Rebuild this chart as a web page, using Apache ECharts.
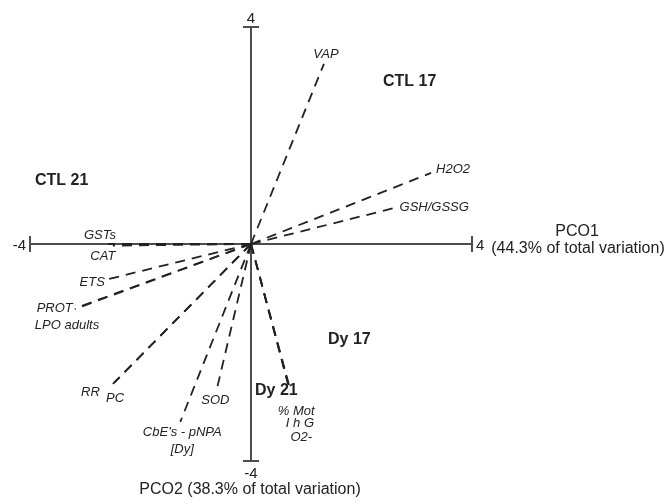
<!DOCTYPE html>
<html>
<head>
<meta charset="utf-8">
<script src="https://cdn.jsdelivr.net/npm/echarts@6/dist/echarts.min.js"></script>
<style>
  html, body { margin: 0; padding: 0; background: #fff; }
  #chart { width: 667px; height: 504px; }
</style>
</head>
<body>
<div id="chart"></div>
<script>
// PCO vector loadings (PCO1, PCO2) for each response variable
const variables = ['VAP', 'H2O2', 'GSH/GSSG', 'GSTs', 'CAT', 'ETS', 'PROT', 'LPO adults',
  'RR', 'PC', 'SOD', "CbE's - pNPA\n[Dy]", '% Mot', 'I h G', 'O2-'];
const pco1 = [1.32, 3.26, 2.58, -2.59, -2.50, -2.59, -3.19, -3.17, -2.50, -2.48, -0.61, -1.28, 0.68, 0.67, 0.69];
const pco2 = [3.32, 1.31, 0.66, 0.00, -0.03, -0.65, -1.20, -1.18, -2.58, -2.56, -2.64, -3.28, -2.60, -2.58, -2.61];

// axis extent and its end labels
const axisRange = [-4, 4];
const tickLabels = ['-4', '4'];

// group (treatment) names and axis titles
const groupNames = ['CTL 21', 'CTL 17', 'Dy 17', 'Dy 21'];
const axisTitles = ['PCO1', '(44.3% of total variation)', 'PCO2 (38.3% of total variation)'];

const FONT = "'Liberation Sans', Arial, sans-serif";
const INK = '#222';
const AXIS_COLOR = '#4d4d4d';

// label placement relative to each vector tip (pixels)
const labelLayout = {
  'VAP':        { dx: 2,   dy: -9, align: 'center' },
  'H2O2':       { dx: 5,   dy: -4, align: 'left' },
  'GSH/GSSG':   { dx: 6,   dy: -1, align: 'left' },
  'GSTs':       { dx: -8,  dy: -9, align: 'center' },
  'CAT':        { dx: -10, dy: 11, align: 'center' },
  'ETS':        { dx: -3,  dy: 3,  align: 'right' },
  'PROT':       { dx: -2,  dy: -1, align: 'right' },
  'LPO adults': { dx: -41, dy: 17, align: 'left' },
  'RR':         { dx: -13, dy: 8,  align: 'right' },
  'PC':         { dx: -8,  dy: 16, align: 'left' },
  'SOD':        { dx: -2,  dy: 13, align: 'center' },
  "CbE's - pNPA\n[Dy]": { dx: 2, dy: 2, align: 'center', vAlign: 'top' },
  '% Mot':      { dx: 26,  dy: 26, align: 'right' },
  'I h G':      { dx: 26,  dy: 39, align: 'right' },
  'O2-':        { dx: 23,  dy: 52, align: 'right' }
};

// group label positions (pixels, left edge / middle)
const groupLayout = [[35, 182], [383, 83], [328, 341], [255, 392]];

const chart = echarts.init(document.getElementById('chart'), null, { renderer: 'canvas' });

const vectorData = variables.map((name, i) => [pco1[i], pco2[i], i]);

const option = {
  animation: false,
  backgroundColor: '#fff',
  grid: { left: 30, right: 195, top: 27, bottom: 43 },
  xAxis: { type: 'value', min: axisRange[0], max: axisRange[1], show: false },
  yAxis: { type: 'value', min: axisRange[0], max: axisRange[1], show: false },
  series: [
    {
      // the two principal axes with their end ticks and end labels
      type: 'custom',
      coordinateSystem: 'cartesian2d',
      data: [[0, 0]],
      z: 1,
      renderItem: function (params, api) {
        const l = api.coord([axisRange[0], 0]);
        const r = api.coord([axisRange[1], 0]);
        const t = api.coord([0, axisRange[1]]);
        const b = api.coord([0, axisRange[0]]);
        const lineStyle = { stroke: AXIS_COLOR, lineWidth: 2 };
        const tick = 8;
        const txt = (text, x, y, align) => ({
          type: 'text',
          style: { text, x, y, align, verticalAlign: 'middle', font: '15px ' + FONT, fill: INK }
        });
        return {
          type: 'group',
          children: [
            { type: 'line', shape: { x1: l[0], y1: l[1], x2: r[0], y2: r[1] }, style: lineStyle },
            { type: 'line', shape: { x1: t[0], y1: t[1], x2: b[0], y2: b[1] }, style: lineStyle },
            { type: 'line', shape: { x1: l[0], y1: l[1] - tick, x2: l[0], y2: l[1] + tick }, style: lineStyle },
            { type: 'line', shape: { x1: r[0], y1: r[1] - tick, x2: r[0], y2: r[1] + tick }, style: lineStyle },
            { type: 'line', shape: { x1: t[0] - tick, y1: t[1], x2: t[0] + tick, y2: t[1] }, style: lineStyle },
            { type: 'line', shape: { x1: b[0] - tick, y1: b[1], x2: b[0] + tick, y2: b[1] }, style: lineStyle },
            txt(tickLabels[0], l[0] - 4, l[1] + 2, 'right'),
            txt(tickLabels[1], r[0] + 4, r[1] + 2, 'left'),
            txt(tickLabels[1], t[0], t[1] - 8, 'center'),
            txt(tickLabels[0], b[0], b[1] + 13, 'center')
          ]
        };
      }
    },
    {
      // dashed loading vectors from the origin, labelled at their tips
      type: 'custom',
      coordinateSystem: 'cartesian2d',
      data: vectorData,
      z: 2,
      renderItem: function (params, api) {
        const o = api.coord([0, 0]);
        const p = api.coord([api.value(0), api.value(1)]);
        const name = variables[api.value(2)];
        const lay = labelLayout[name];
        return {
          type: 'group',
          children: [
            {
              type: 'line',
              shape: { x1: o[0], y1: o[1], x2: p[0], y2: p[1] },
              style: { stroke: INK, lineWidth: 1.8, lineDash: [10, 7] }
            },
            {
              type: 'text',
              style: {
                text: name,
                x: p[0] + lay.dx,
                y: p[1] + lay.dy,
                align: lay.align,
                verticalAlign: lay.vAlign || 'middle',
                font: 'italic 13px ' + FONT,
                lineHeight: 17,
                fill: INK
              }
            }
          ]
        };
      }
    }
  ],
  graphic: [
    ...groupNames.map((g, i) => ({
      type: 'text',
      left: groupLayout[i][0],
      top: groupLayout[i][1] - 9,
      style: { text: g, font: 'bold 16px ' + FONT, fill: INK }
    })),
    {
      type: 'text',
      x: 577, y: 232,
      style: { text: axisTitles[0], align: 'center', verticalAlign: 'middle', font: '16px ' + FONT, fill: INK }
    },
    {
      type: 'text',
      x: 578, y: 249,
      style: { text: axisTitles[1], align: 'center', verticalAlign: 'middle', font: '16px ' + FONT, fill: INK }
    },
    {
      type: 'text',
      x: 250, y: 490,
      style: { text: axisTitles[2], align: 'center', verticalAlign: 'middle', font: '16px ' + FONT, fill: INK }
    }
  ]
};

chart.setOption(option);
</script>
</body>
</html>
